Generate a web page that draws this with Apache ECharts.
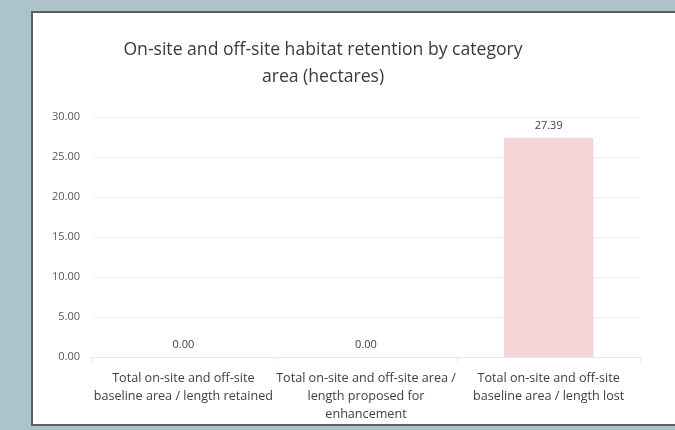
<!DOCTYPE html>
<html>
<head>
<meta charset="utf-8">
<script src="https://cdn.jsdelivr.net/npm/echarts@6/dist/echarts.min.js"></script>
<style>
  html, body { margin: 0; padding: 0; }
  body { width: 675px; height: 430px; background: #abc3c9; position: relative; overflow: hidden; }
  .panel {
    position: absolute; left: 31px; top: 11px; width: 660px; height: 411px;
    background: #ffffff; border: 2px solid #5a5f62;
  }
  #chart { position: absolute; left: 0; top: 0; width: 675px; height: 430px; }
</style>
</head>
<body>
<div class="panel"></div>
<div id="chart"></div>
<script>
// chart data
const categories = [
  'Total on-site and off-site\nbaseline area / length retained',
  'Total on-site and off-site area /\nlength proposed for\nenhancement',
  'Total on-site and off-site\nbaseline area / length lost'
]
const hectares = [0, 0, 27.39]
const yTicks = [0, 5, 10, 15, 20, 25, 30]

const chart = echarts.init(document.getElementById('chart'))

const option = {
  backgroundColor: 'transparent',
  title: {
    text: 'On-site and off-site habitat retention by category\narea (hectares)',
    left: 318,
    top: 31,
    textAlign: 'center',
    textStyle: {
      fontFamily: 'Open Sans',
      fontSize: 17.6,
      fontWeight: 'normal',
      color: '#3a3a3a',
      lineHeight: 27
    }
  },
  grid: {
    left: 92,
    right: 35,
    top: 117,
    bottom: 73
  },
  xAxis: {
    type: 'category',
    data: categories,
    axisLine: { lineStyle: { color: '#e6e9ea', width: 1 } },
    axisTick: { show: true, length: 5, lineStyle: { color: '#e6e9ea' } },
    axisLabel: {
      interval: 0,
      margin: 12,
      fontFamily: 'Open Sans',
      fontSize: 12.6,
      lineHeight: 18,
      color: '#404040'
    }
  },
  yAxis: {
    type: 'value',
    min: yTicks[0],
    max: yTicks[yTicks.length - 1],
    interval: 5,
    axisLine: { show: false },
    axisTick: { show: false },
    splitLine: { lineStyle: { color: '#eef1f2', width: 1 } },
    axisLabel: {
      margin: 12,
      fontFamily: 'Open Sans',
      fontSize: 11,
      color: '#595959',
      formatter: v => v.toFixed(2)
    }
  },
  series: [
    {
      type: 'bar',
      data: hectares,
      barWidth: '49%',
      itemStyle: { color: '#f4d4d7' },
      label: {
        show: true,
        position: 'top',
        distance: 7,
        fontFamily: 'Open Sans',
        fontSize: 11,
        color: '#404040',
        formatter: p => p.value.toFixed(2)
      }
    }
  ]
}

chart.setOption(option)
</script>
</body>
</html>
